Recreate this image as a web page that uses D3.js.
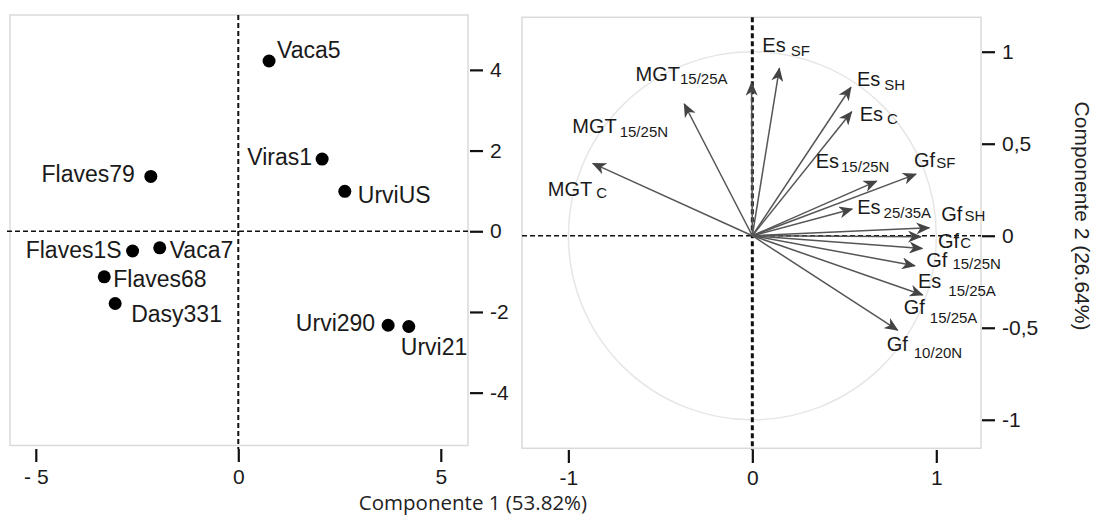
<!DOCTYPE html>
<html>
<head>
<meta charset="utf-8">
<script src="https://cdn.jsdelivr.net/npm/d3@7"></script>
<style>
  body { margin: 0; background: #fff; }
  svg { display: block; }
</style>
</head>
<body>
<script>
// --- data: scores (left panel) ---
var sampleNames = ["Vaca5", "Viras1", "UrviUS", "Flaves79", "Flaves1S", "Vaca7", "Flaves68", "Dasy331", "Urvi290", "Urvi21"];
var scoreX = [0.76, 2.07, 2.63, -2.16, -2.61, -1.94, -3.31, -3.04, 3.70, 4.21];
var scoreY = [4.22, 1.79, 0.99, 1.36, -0.49, -0.41, -1.13, -1.79, -2.33, -2.36];

// --- data: loadings (right panel) ---
var varMain = ["MGT", "MGT", "MGT", "Es", "Es", "Es", "Es", "Gf", "Es", "Gf", "Gf", "Gf", "Es", "Gf", "Gf"];
var varSub = ["C", "15/25N", "15/25A", "SF", "SH", "C", "15/25N", "SF", "25/35A", "SH", "C", "15/25N", "15/25A", "15/25A", "10/20N"];
var loadX = [-0.867, -0.370, -0.004, 0.147, 0.536, 0.540, 0.676, 0.890, 0.543, 0.962, 0.917, 0.924, 0.884, 0.926, 0.790];
var loadY = [0.393, 0.716, 0.832, 0.910, 0.807, 0.674, 0.297, 0.335, 0.145, 0.043, -0.005, -0.069, -0.163, -0.322, -0.513];

// --- tick values ---
var leftXTicks = [-5, 0, 5];
var leftYTicks = [-4, -2, 0, 2, 4];
var rightXTicks = [-1, 0, 1];
var rightYTicks = [-1, -0.5, 0, 0.5, 1];

var xTitle = "Componente 1 (53.82%)";
var yTitle = "Componente 2 (26.64%)";

// label placement (pixels from the mark)
var sampleLabelPos = [
  {a: "start", dx: 8, dy: -3},
  {a: "end", dx: -10, dy: 6},
  {a: "start", dx: 13, dy: 12},
  {a: "end", dx: -16, dy: 6},
  {a: "end", dx: -11, dy: 7},
  {a: "start", dx: 10, dy: 10},
  {a: "start", dx: 9, dy: 10},
  {a: "start", dx: 16, dy: 19},
  {a: "end", dx: -13, dy: 6},
  {a: "start", dx: -8, dy: 29}
];
var varLabelPos = [
  {dx: -45, dy: 33, gap: 4, sy: 2},
  {dx: -112, dy: 29, gap: 3, sy: 4},
  {dx: -116, dy: -2, gap: 0, sy: 3},
  {dx: -17, dy: -16, gap: 5, sy: 4},
  {dx: 6, dy: -1, gap: 4, sy: 4},
  {dx: 8, dy: 9, gap: 4, sy: 3},
  {dx: -61, dy: -13, gap: 2, sy: 4},
  {dx: -2, dy: -7, gap: 1, sy: 1},
  {dx: 5, dy: 5, gap: 3, sy: 4},
  {dx: 12, dy: -7, gap: 2, sy: 0},
  {dx: 17, dy: 11, gap: 1, sy: 0},
  {dx: 4, dy: 19, gap: 5, sy: 2},
  {dx: 3, dy: 22, gap: 7, sy: 8},
  {dx: -19, dy: 19, gap: 5, sy: 9},
  {dx: -11, dy: 21, gap: 6, sy: 7}
];

var width = 1094, height = 517;
var font = "'Liberation Sans', Arial, sans-serif";

var svg = d3.select("body").append("svg")
    .attr("width", width)
    .attr("height", height)
    .style("font-family", font);

svg.append("rect").attr("width", width).attr("height", height).attr("fill", "#fff");

//////////////// left panel ////////////////
var xL = d3.scaleLinear().domain([-5.637, 5.672]).range([10, 468]);
var yL = d3.scaleLinear().domain([-5.31, 5.36]).range([445.5, 15]);

var left = svg.append("g");

left.append("rect")
    .attr("x", xL.range()[0]).attr("y", yL.range()[1])
    .attr("width", xL.range()[1] - xL.range()[0])
    .attr("height", yL.range()[0] - yL.range()[1])
    .attr("fill", "none").attr("stroke", "#dadada").attr("stroke-width", 1.5);

left.append("line")
    .attr("x1", xL(0)).attr("x2", xL(0))
    .attr("y1", yL.range()[1]).attr("y2", 449)
    .attr("stroke", "#111").attr("stroke-width", 2).attr("stroke-dasharray", "5,3");
left.append("line")
    .attr("x1", 7).attr("x2", 470)
    .attr("y1", yL(0)).attr("y2", yL(0))
    .attr("stroke", "#111").attr("stroke-width", 1.6).attr("stroke-dasharray", "5,3");

var lxAxis = left.append("g")
    .attr("transform", "translate(0,449)")
    .call(d3.axisBottom(xL).tickValues(leftXTicks).tickSize(13).tickPadding(7)
        .tickFormat(function(d){ return d < 0 ? "- " + (-d) : String(d); }));
var lyAxis = left.append("g")
    .attr("transform", "translate(470,0)")
    .call(d3.axisRight(yL).tickValues(leftYTicks).tickSize(13).tickPadding(7)
        .tickFormat(function(d){ return String(d); }));

left.selectAll(".dot")
    .data(sampleNames)
    .enter()
    .append("circle")
    .attr("class", "dot")
    .attr("cx", function(d, i){ return xL(scoreX[i]); })
    .attr("cy", function(d, i){ return yL(scoreY[i]); })
    .attr("r", 6.5)
    .attr("fill", "#000");

left.selectAll(".slabel")
    .data(sampleNames)
    .enter()
    .append("text")
    .attr("class", "slabel")
    .attr("x", function(d, i){ return xL(scoreX[i]) + sampleLabelPos[i].dx; })
    .attr("y", function(d, i){ return yL(scoreY[i]) + sampleLabelPos[i].dy; })
    .attr("text-anchor", function(d, i){ return sampleLabelPos[i].a; })
    .attr("font-size", 23)
    .attr("fill", "#1a1a1a")
    .text(function(d){ return d; });

//////////////// right panel ////////////////
var xR = d3.scaleLinear().domain([-1.252, 1.243]).range([522, 981]);
var yR = d3.scaleLinear().domain([-1.155, 1.187]).range([448.3, 17.3]);

var right = svg.append("g");

right.append("rect")
    .attr("x", xR.range()[0]).attr("y", yR.range()[1])
    .attr("width", xR.range()[1] - xR.range()[0])
    .attr("height", yR.range()[0] - yR.range()[1])
    .attr("fill", "none").attr("stroke", "#dadada").attr("stroke-width", 1.5);

right.append("ellipse")
    .attr("cx", xR(0)).attr("cy", yR(0))
    .attr("rx", xR(1) - xR(0)).attr("ry", yR(0) - yR(1))
    .attr("fill", "none").attr("stroke", "#e6e6e6").attr("stroke-width", 1.5);

right.append("line")
    .attr("x1", xR.range()[0]).attr("x2", xR.range()[1])
    .attr("y1", yR(0)).attr("y2", yR(0))
    .attr("stroke", "#111").attr("stroke-width", 1.5).attr("stroke-dasharray", "5,3");
right.append("line")
    .attr("x1", xR(0)).attr("x2", xR(0))
    .attr("y1", yR.range()[1]).attr("y2", 450)
    .attr("stroke", "#111").attr("stroke-width", 3).attr("stroke-dasharray", "5,3");

var rxAxis = right.append("g")
    .attr("transform", "translate(0,450)")
    .call(d3.axisBottom(xR).tickValues(rightXTicks).tickSize(13).tickPadding(7)
        .tickFormat(function(d){ return String(d); }));
var ryAxis = right.append("g")
    .attr("transform", "translate(982,0)")
    .call(d3.axisRight(yR).tickValues(rightYTicks).tickSize(13).tickPadding(7)
        .tickFormat(function(d){ return String(d).replace(".", ","); }));

// arrow head
svg.append("defs").append("marker")
    .attr("id", "head")
    .attr("markerUnits", "userSpaceOnUse")
    .attr("viewBox", "0 0 14 12")
    .attr("refX", 13).attr("refY", 6)
    .attr("markerWidth", 14).attr("markerHeight", 12)
    .attr("orient", "auto")
    .append("path")
    .attr("d", "M0,0 L14,6 L0,12 L4,6 Z")
    .attr("fill", "#444");

right.selectAll(".arrow")
    .data(varMain)
    .enter()
    .append("line")
    .attr("class", "arrow")
    .attr("x1", xR(0)).attr("y1", yR(0))
    .attr("x2", function(d, i){ return xR(loadX[i]); })
    .attr("y2", function(d, i){ return yR(loadY[i]); })
    .attr("stroke", "#555")
    .attr("stroke-width", 1.5)
    .attr("marker-end", "url(#head)");

var vlab = right.selectAll(".vlabel")
    .data(varMain)
    .enter()
    .append("text")
    .attr("class", "vlabel")
    .attr("x", function(d, i){ return xR(loadX[i]) + varLabelPos[i].dx; })
    .attr("y", function(d, i){ return yR(loadY[i]) + varLabelPos[i].dy; })
    .attr("fill", "#1a1a1a");
vlab.append("tspan")
    .attr("font-size", 20)
    .text(function(d){ return d; });
vlab.append("tspan")
    .attr("font-size", 15)
    .attr("dx", function(d, i){ return varLabelPos[i].gap; })
    .attr("dy", function(d, i){ return varLabelPos[i].sy; })
    .text(function(d, i){ return varSub[i]; });

// axis styling
[lxAxis, lyAxis, rxAxis, ryAxis].forEach(function(ax){
    ax.select(".domain").remove();
    ax.selectAll(".tick line").attr("stroke", "#111").attr("stroke-width", 2.2);
    ax.selectAll(".tick text")
        .attr("fill", "#1a1a1a")
        .style("font-family", font)
        .attr("font-size", 21);
});

// axis titles
svg.append("text")
    .attr("x", 473).attr("y", 510)
    .attr("text-anchor", "middle")
    .style("font-family", "'Open Sans', sans-serif")
    .attr("font-size", 20.5)
    .attr("fill", "#222")
    .text(xTitle);

svg.append("text")
    .attr("transform", "translate(1075,216) rotate(90)")
    .attr("text-anchor", "middle")
    .attr("font-size", 21)
    .attr("fill", "#222")
    .text(yTitle);
</script>
</body>
</html>
